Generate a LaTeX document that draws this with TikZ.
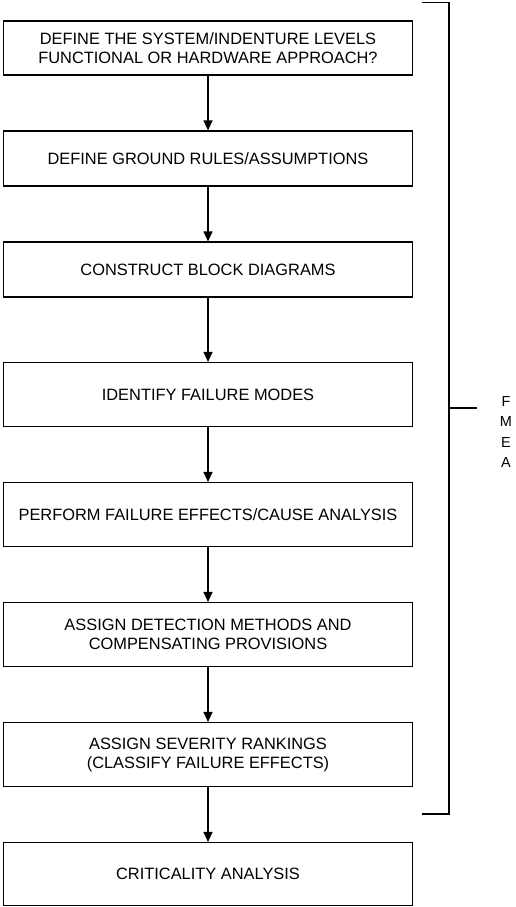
\documentclass[tikz,border=0pt]{standalone}
\usepackage{fontspec}
\setmainfont{Liberation Sans}
\usetikzlibrary{arrows.meta}

\begin{document}
\begin{tikzpicture}[x=1pt,y=-1pt,line width=1.2pt,
  stage/.style={draw,minimum width=409pt,inner sep=0pt,align=center,
    font=\fontsize{16.4}{19}\selectfont},
  flow/.style={-{Triangle[length=10pt,width=9pt]}}]
\useasboundingbox (0,0) rectangle (516,907);

\node[stage,minimum height=54pt] (levels) at (208,48)
  {DEFINE THE SYSTEM/INDENTURE LEVELS\\FUNCTIONAL OR HARDWARE APPROACH?};
\node[stage,minimum height=55pt] (rules) at (208,158.5) {DEFINE GROUND RULES/ASSUMPTIONS};
\node[stage,minimum height=55pt] (blocks) at (208,269.5) {CONSTRUCT BLOCK DIAGRAMS};
\node[stage,minimum height=64pt] (modes) at (208,394.5) {IDENTIFY FAILURE MODES};
\node[stage,minimum height=64pt] (effects) at (208,514.5) {PERFORM FAILURE EFFECTS/CAUSE ANALYSIS};
\node[stage,minimum height=64pt] (detect) at (208,634.5)
  {ASSIGN DETECTION METHODS AND\\COMPENSATING PROVISIONS};
\node[stage,minimum height=64pt] (severity) at (208,754.5)
  {ASSIGN SEVERITY RANKINGS\\(CLASSIFY FAILURE EFFECTS)};
\node[stage,minimum height=63pt] (crit) at (208,874) {CRITICALITY ANALYSIS};

\draw[flow] (levels) -- (rules);
\draw[flow] (rules) -- (blocks);
\draw[flow] (blocks) -- (modes);
\draw[flow] (modes) -- (effects);
\draw[flow] (effects) -- (detect);
\draw[flow] (detect) -- (severity);
\draw[flow] (severity) -- (crit);

% bracket round the FMEA steps
\coordinate (top) at (422,2.5);
\coordinate (bottom) at (422,814);
\coordinate (tick) at (477,408);
\draw (top) -- (449,2.5) -- (449,814) -- (bottom);
\draw (449,408) -- (tick);
\node[align=center,inner sep=0pt,font=\fontsize{14.5}{20.4}\selectfont] (fmea) at (506,432) {F\\M\\E\\A};
\end{tikzpicture}
\end{document}
